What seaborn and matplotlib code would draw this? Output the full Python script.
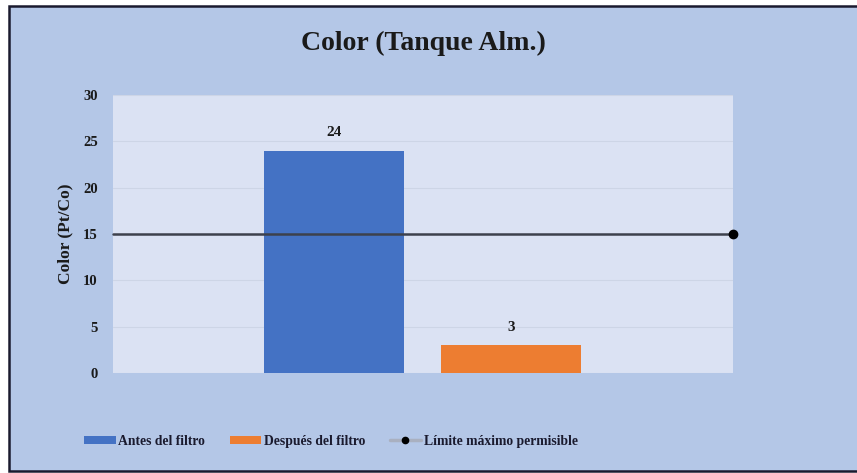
import matplotlib
matplotlib.use("Agg")
import matplotlib.pyplot as plt
from matplotlib.patches import Rectangle
from matplotlib.lines import Line2D
import seaborn as sns
import pandas as pd

# Data
series = ["Antes del filtro", "Después del filtro"]
values = [24, 3]
limit_label = "Límite máximo permisible"
limit_value = 15
colors = ["#4472c4", "#ed7d31"]
yticks = [0, 5, 10, 15, 20, 25, 30]

sns.set_theme(style="white")
plt.rcParams["font.family"] = ["Liberation Serif", "DejaVu Serif"]
plt.rcParams["font.weight"] = "bold"

W, H = 857, 473
fig = plt.figure(figsize=(W / 100, H / 100), dpi=100, facecolor="white")

# chart frame
frame = Rectangle((9 / W, 2 / H), 1 - 9 / W + 0.01, 1 - 8 / H, transform=fig.transFigure,
                  facecolor="#b4c7e7", edgecolor="#1a1a2e", linewidth=1.8, zorder=-10)
fig.patches.append(frame)

# plot area: x 113..733, y 95..373 (px)
ax = fig.add_axes([113 / W, 1 - 373 / H, (733 - 113) / W, (373 - 95) / H])
ax.set_facecolor("#dbe2f3")

df = pd.DataFrame({"serie": series, "valor": values})
sns.barplot(data=df, x="serie", y="valor", hue="serie", palette=colors,
            order=series, width=0.79, dodge=False, legend=False, ax=ax, zorder=3,
            edgecolor="none", saturation=1)

ax.set_xlim(-1.249, 2.254)
ax.set_ylim(0, 30)
ax.set_yticks(yticks)
ax.set_yticklabels([str(t) for t in yticks], fontsize=10.5, fontweight="bold", color="#1a1a1a")
ax.set_xticks([])
ax.set_xlabel("")
ax.set_ylabel("Color (Pt/Co)", fontsize=12.5, fontweight="bold", color="#1a1a1a", labelpad=7)
ax.tick_params(axis="y", length=0, pad=11)
ax.yaxis.grid(True, color="#cdd5e6", linewidth=0.8, zorder=0)
ax.set_axisbelow(True)
for s in ax.spines.values():
    s.set_visible(False)

# value labels
for i, v in enumerate(values):
    ax.text(i, v + 1.2, str(v), ha="center", va="bottom", fontsize=11,
            fontweight="bold", color="#1a1a1a", zorder=5)

# maximum permissible limit line
xl = ax.get_xlim()
ax.plot([xl[0], xl[1]], [limit_value, limit_value], color="#3d414c", linewidth=1.8,
        zorder=4, clip_on=False)
ax.plot([xl[1]], [limit_value], marker="o", color="black", markersize=6,
        zorder=6, clip_on=False)

fig.text(423 / W, 1 - 43 / H, "Color (Tanque Alm.)", ha="center", va="center",
         fontsize=20, fontweight="bold", color="#1a1a1a")

handles = [
    Rectangle((0, 0), 1, 1, facecolor=colors[0], edgecolor="none"),
    Rectangle((0, 0), 1, 1, facecolor=colors[1], edgecolor="none"),
    Line2D([0], [0], color="#a9b0c0", linewidth=2.5, marker="o",
           markerfacecolor="black", markeredgecolor="black", markersize=4.5),
]
leg = fig.legend(handles, series + [limit_label], loc="center",
                 bbox_to_anchor=(331 / W, 1 - 441 / H), ncol=3, frameon=False,
                 prop={"size": 9.8, "weight": "bold"}, handlelength=2.3,
                 handleheight=0.5, handletextpad=0.2, columnspacing=1.8)
for t in leg.get_texts():
    t.set_color("#1a1a2e")

fig.savefig("out.png", dpi=100, facecolor=fig.get_facecolor())
